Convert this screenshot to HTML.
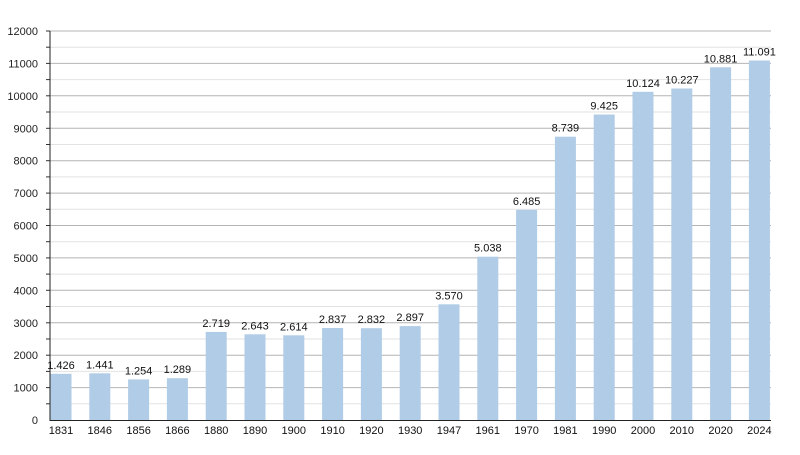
<!DOCTYPE html>
<html><head><style>body{margin:0;background:#fff}svg{font-family:"Liberation Sans",sans-serif}</style></head><body>
<svg width="800" height="450" xmlns="http://www.w3.org/2000/svg">
<g stroke="#e2e2e2">
<line x1="50" x2="771" y1="403.8" y2="403.8"/><line x1="50" x2="771" y1="371.4" y2="371.4"/><line x1="50" x2="771" y1="339" y2="339"/><line x1="50" x2="771" y1="306.5" y2="306.5"/><line x1="50" x2="771" y1="274.1" y2="274.1"/><line x1="50" x2="771" y1="241.7" y2="241.7"/><line x1="50" x2="771" y1="209.3" y2="209.3"/><line x1="50" x2="771" y1="176.9" y2="176.9"/><line x1="50" x2="771" y1="144.5" y2="144.5"/><line x1="50" x2="771" y1="112" y2="112"/><line x1="50" x2="771" y1="79.6" y2="79.6"/><line x1="50" x2="771" y1="47.2" y2="47.2"/>
</g>
<g stroke="#b4b4b4">
<line x1="50" x2="771" y1="387.6" y2="387.6"/><line x1="50" x2="771" y1="355.2" y2="355.2"/><line x1="50" x2="771" y1="322.8" y2="322.8"/><line x1="50" x2="771" y1="290.3" y2="290.3"/><line x1="50" x2="771" y1="257.9" y2="257.9"/><line x1="50" x2="771" y1="225.5" y2="225.5"/><line x1="50" x2="771" y1="193.1" y2="193.1"/><line x1="50" x2="771" y1="160.7" y2="160.7"/><line x1="50" x2="771" y1="128.3" y2="128.3"/><line x1="50" x2="771" y1="95.8" y2="95.8"/><line x1="50" x2="771" y1="63.4" y2="63.4"/><line x1="50" x2="771" y1="31" y2="31"/>
</g>
<g stroke="#333">
<line x1="46" x2="50" y1="403.8" y2="403.8"/><line x1="46" x2="50" y1="387.6" y2="387.6"/><line x1="46" x2="50" y1="371.4" y2="371.4"/><line x1="46" x2="50" y1="355.2" y2="355.2"/><line x1="46" x2="50" y1="339" y2="339"/><line x1="46" x2="50" y1="322.8" y2="322.8"/><line x1="46" x2="50" y1="306.5" y2="306.5"/><line x1="46" x2="50" y1="290.3" y2="290.3"/><line x1="46" x2="50" y1="274.1" y2="274.1"/><line x1="46" x2="50" y1="257.9" y2="257.9"/><line x1="46" x2="50" y1="241.7" y2="241.7"/><line x1="46" x2="50" y1="225.5" y2="225.5"/><line x1="46" x2="50" y1="209.3" y2="209.3"/><line x1="46" x2="50" y1="193.1" y2="193.1"/><line x1="46" x2="50" y1="176.9" y2="176.9"/><line x1="46" x2="50" y1="160.7" y2="160.7"/><line x1="46" x2="50" y1="144.5" y2="144.5"/><line x1="46" x2="50" y1="128.3" y2="128.3"/><line x1="46" x2="50" y1="112" y2="112"/><line x1="46" x2="50" y1="95.8" y2="95.8"/><line x1="46" x2="50" y1="79.6" y2="79.6"/><line x1="46" x2="50" y1="63.4" y2="63.4"/><line x1="46" x2="50" y1="47.2" y2="47.2"/><line x1="46" x2="50" y1="31" y2="31"/>
</g>
<g font-size="11" text-anchor="end" fill="#222">
<text x="38" y="424">0</text><text x="38" y="391.6">1000</text><text x="38" y="359.2">2000</text><text x="38" y="326.8">3000</text><text x="38" y="294.3">4000</text><text x="38" y="261.9">5000</text><text x="38" y="229.5">6000</text><text x="38" y="197.1">7000</text><text x="38" y="164.7">8000</text><text x="38" y="132.3">9000</text><text x="38" y="99.8">10000</text><text x="38" y="67.4">11000</text><text x="38" y="35">12000</text>
</g>
<g fill="#b0cce6">
<rect x="50.5" y="373.8" width="21" height="46.2"/><rect x="89.3" y="373.3" width="21" height="46.7"/><rect x="128.1" y="379.4" width="21" height="40.6"/><rect x="166.9" y="378.2" width="21" height="41.8"/><rect x="205.7" y="331.9" width="21" height="88.1"/><rect x="244.5" y="334.3" width="21" height="85.7"/><rect x="283.3" y="335.3" width="21" height="84.7"/><rect x="322.1" y="328" width="21" height="92"/><rect x="360.9" y="328.2" width="21" height="91.8"/><rect x="399.7" y="326.1" width="21" height="93.9"/><rect x="438.5" y="304.3" width="21" height="115.7"/><rect x="477.3" y="256.7" width="21" height="163.3"/><rect x="516.1" y="209.8" width="21" height="210.2"/><rect x="554.9" y="136.7" width="21" height="283.3"/><rect x="593.7" y="114.5" width="21" height="305.5"/><rect x="632.5" y="91.8" width="21" height="328.2"/><rect x="671.3" y="88.5" width="21" height="331.5"/><rect x="710.1" y="67.3" width="21" height="352.7"/><rect x="748.9" y="60.5" width="21" height="359.5"/>
</g>
<g font-size="11" text-anchor="middle" fill="#111">
<text x="61" y="368.8">1.426</text><text x="99.8" y="368.3">1.441</text><text x="138.6" y="374.4">1.254</text><text x="177.4" y="373.2">1.289</text><text x="216.2" y="326.9">2.719</text><text x="255" y="329.3">2.643</text><text x="293.8" y="330.3">2.614</text><text x="332.6" y="323">2.837</text><text x="371.4" y="323.2">2.832</text><text x="410.2" y="321.1">2.897</text><text x="449" y="299.3">3.570</text><text x="487.8" y="251.7">5.038</text><text x="526.6" y="204.8">6.485</text><text x="565.4" y="131.7">8.739</text><text x="604.2" y="109.5">9.425</text><text x="643" y="86.8">10.124</text><text x="681.8" y="83.5">10.227</text><text x="720.6" y="62.3">10.881</text><text x="759.4" y="55.5">11.091</text>
<text x="61" y="434">1831</text><text x="99.8" y="434">1846</text><text x="138.6" y="434">1856</text><text x="177.4" y="434">1866</text><text x="216.2" y="434">1880</text><text x="255" y="434">1890</text><text x="293.8" y="434">1900</text><text x="332.6" y="434">1910</text><text x="371.4" y="434">1920</text><text x="410.2" y="434">1930</text><text x="449" y="434">1947</text><text x="487.8" y="434">1961</text><text x="526.6" y="434">1970</text><text x="565.4" y="434">1981</text><text x="604.2" y="434">1990</text><text x="643" y="434">2000</text><text x="681.8" y="434">2010</text><text x="720.6" y="434">2020</text><text x="759.4" y="434">2024</text>
</g>
<line x1="50" x2="50" y1="31" y2="421" stroke="#222"/>
<line x1="50" x2="771" y1="420.5" y2="420.5" stroke="#222"/>
</svg></body></html>
